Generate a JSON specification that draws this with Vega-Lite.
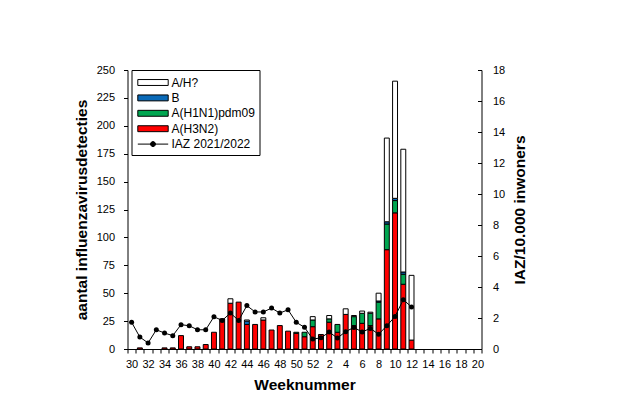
{
  "$schema": "https://vega.github.io/schema/vega-lite/v6.json",
  "width": 354,
  "height": 279,
  "autosize": {"type": "none"},
  "padding": {"left": 127.5, "top": 70, "right": 156.5, "bottom": 54},
  "background": "white",
  "datasets": {
    "bars": [
      {"w": 31, "s": "A(H3N2)", "n": 1},
      {"w": 34, "s": "A(H3N2)", "n": 1},
      {"w": 35, "s": "A(H3N2)", "n": 1},
      {"w": 36, "s": "A(H3N2)", "n": 12},
      {"w": 37, "s": "A(H3N2)", "n": 2},
      {"w": 38, "s": "A(H3N2)", "n": 2},
      {"w": 39, "s": "A(H3N2)", "n": 4},
      {"w": 40, "s": "A(H3N2)", "n": 15},
      {"w": 41, "s": "A(H3N2)", "n": 27},
      {"w": 42, "s": "A(H3N2)", "n": 41},
      {"w": 42, "s": "A/H?", "n": 4},
      {"w": 43, "s": "A(H3N2)", "n": 42},
      {"w": 44, "s": "A(H3N2)", "n": 22},
      {"w": 44, "s": "B", "n": 3},
      {"w": 44, "s": "A/H?", "n": 1},
      {"w": 45, "s": "A(H3N2)", "n": 22},
      {"w": 46, "s": "A(H3N2)", "n": 26},
      {"w": 46, "s": "A/H?", "n": 2},
      {"w": 47, "s": "A(H3N2)", "n": 17},
      {"w": 48, "s": "A(H3N2)", "n": 21},
      {"w": 49, "s": "A(H3N2)", "n": 16},
      {"w": 50, "s": "A(H3N2)", "n": 14},
      {"w": 50, "s": "A(H1N1)pdm09", "n": 1},
      {"w": 51, "s": "A(H3N2)", "n": 11},
      {"w": 51, "s": "A(H1N1)pdm09", "n": 4},
      {"w": 52, "s": "A(H3N2)", "n": 20},
      {"w": 52, "s": "A(H1N1)pdm09", "n": 6},
      {"w": 52, "s": "A/H?", "n": 3},
      {"w": 1, "s": "A(H3N2)", "n": 13},
      {"w": 2, "s": "A(H3N2)", "n": 24},
      {"w": 2, "s": "A(H1N1)pdm09", "n": 3},
      {"w": 2, "s": "A/H?", "n": 3},
      {"w": 3, "s": "A(H3N2)", "n": 15},
      {"w": 3, "s": "A(H1N1)pdm09", "n": 7},
      {"w": 4, "s": "A(H3N2)", "n": 31},
      {"w": 4, "s": "A/H?", "n": 5},
      {"w": 5, "s": "A(H3N2)", "n": 21},
      {"w": 5, "s": "A(H1N1)pdm09", "n": 8},
      {"w": 5, "s": "A/H?", "n": 1},
      {"w": 6, "s": "A(H3N2)", "n": 23},
      {"w": 6, "s": "A(H1N1)pdm09", "n": 9},
      {"w": 6, "s": "A/H?", "n": 2},
      {"w": 7, "s": "A(H3N2)", "n": 21},
      {"w": 7, "s": "A(H1N1)pdm09", "n": 11},
      {"w": 7, "s": "A/H?", "n": 1},
      {"w": 8, "s": "A(H3N2)", "n": 27},
      {"w": 8, "s": "A(H1N1)pdm09", "n": 15},
      {"w": 8, "s": "B", "n": 1},
      {"w": 8, "s": "A/H?", "n": 7},
      {"w": 9, "s": "A(H3N2)", "n": 89},
      {"w": 9, "s": "A(H1N1)pdm09", "n": 23},
      {"w": 9, "s": "B", "n": 2},
      {"w": 9, "s": "A/H?", "n": 75},
      {"w": 10, "s": "A(H3N2)", "n": 122},
      {"w": 10, "s": "A(H1N1)pdm09", "n": 11},
      {"w": 10, "s": "B", "n": 2},
      {"w": 10, "s": "A/H?", "n": 105},
      {"w": 11, "s": "A(H3N2)", "n": 58},
      {"w": 11, "s": "A(H1N1)pdm09", "n": 9},
      {"w": 11, "s": "B", "n": 2},
      {"w": 11, "s": "A/H?", "n": 110},
      {"w": 12, "s": "A(H3N2)", "n": 8},
      {"w": 12, "s": "A/H?", "n": 58}
    ],
    "iaz": [
      {"w": 30, "v": 1.72}, {"w": 31, "v": 0.77}, {"w": 32, "v": 0.39}, {"w": 33, "v": 1.24},
      {"w": 34, "v": 1.03}, {"w": 35, "v": 0.86}, {"w": 36, "v": 1.57}, {"w": 37, "v": 1.5},
      {"w": 38, "v": 1.24}, {"w": 39, "v": 1.24}, {"w": 40, "v": 2.08}, {"w": 41, "v": 1.84},
      {"w": 42, "v": 2.32}, {"w": 43, "v": 1.84}, {"w": 44, "v": 2.8}, {"w": 45, "v": 2.39},
      {"w": 46, "v": 2.39}, {"w": 47, "v": 2.64}, {"w": 48, "v": 2.32}, {"w": 49, "v": 2.53},
      {"w": 50, "v": 1.72}, {"w": 51, "v": 1.4}, {"w": 52, "v": 0.64}, {"w": 1, "v": 0.72},
      {"w": 2, "v": 1.09}, {"w": 3, "v": 0.71}, {"w": 4, "v": 1.12}, {"w": 5, "v": 1.39},
      {"w": 6, "v": 1.1}, {"w": 7, "v": 1.33}, {"w": 8, "v": 0.95}, {"w": 9, "v": 1.5},
      {"w": 10, "v": 2.1}, {"w": 11, "v": 3.18}, {"w": 12, "v": 2.71}
    ]
  },
  "encoding": {
    "x": {
      "field": "w",
      "type": "ordinal",
      "scale": {
        "domain": [30,31,32,33,34,35,36,37,38,39,40,41,42,43,44,45,46,47,48,49,50,51,52,1,2,3,4,5,6,7,8,9,10,11,12,13,14,15,16,17,18,19,20],
        "paddingInner": 0,
        "paddingOuter": 0
      },
      "axis": {
        "title": "Weeknummer",
        "labelAngle": 0,
        "tickBand": "extent",
        "tickSize": 4,
        "labelPadding": 5,
        "titlePadding": 8,
        "labelOverlap": false,
        "labelExpr": "datum.value % 2 == 0 ? datum.label : ''"
      }
    }
  },
  "layer": [
    {
      "data": {"name": "bars"},
      "transform": [
        {"calculate": "indexof(['A(H3N2)','A(H1N1)pdm09','B','A/H?'], datum.s)", "as": "ord"}
      ],
      "mark": {"type": "bar", "width": {"band": 0.6}, "stroke": "black", "strokeWidth": 1},
      "encoding": {
        "y": {
          "field": "n",
          "type": "quantitative",
          "stack": "zero",
          "scale": {"domain": [0, 250], "nice": false},
          "axis": {
            "title": "aantal influenzavirusdetecties",
            "orient": "left",
            "values": [0,25,50,75,100,125,150,175,200,225,250],
            "tickSize": 4,
            "labelPadding": 9,
            "titlePadding": 7
          }
        },
        "fill": {
          "field": "s",
          "type": "nominal",
          "scale": {
            "domain": ["A/H?", "B", "A(H1N1)pdm09", "A(H3N2)", "IAZ 2021/2022"],
            "range": ["#ffffff", "#0a6ab8", "#00a650", "#ff0000", "#000000"]
          },
          "legend": {
            "orient": "none",
            "legendX": 4,
            "legendY": 0,
            "title": null,
            "strokeColor": "black",
            "fillColor": "white",
            "padding": 4,
            "labelFont": "Liberation Sans",
            "labelFontSize": 12,
            "labelColor": "black",
            "symbolSize": 256,
            "symbolStrokeColor": "black",
            "symbolStrokeWidth": 1,
            "symbolType": "M-1.9,-0.37H1.9V0.37H-1.9Z",
            "symbolOffset": 9,
            "labelOffset": 10,
            "rowPadding": 0.4,
            "encode": {
              "symbols": {
                "update": {
                  "shape": {"signal": "datum.value === 'IAZ 2021/2022' ? 'M-1.9,0H1.9M-0.31,0A0.31,0.31 0 1 1 0.31,0A0.31,0.31 0 1 1 -0.31,0Z' : 'M-1.9,-0.37H1.9V0.37H-1.9Z'"}
                }
              }
            }
          }
        },
        "order": {"field": "ord", "type": "quantitative"}
      }
    },
    {
      "data": {"name": "iaz"},
      "mark": {"type": "line", "color": "black", "strokeWidth": 1, "point": {"filled": true, "size": 25, "color": "black"}},
      "encoding": {
        "y": {
          "field": "v",
          "type": "quantitative",
          "scale": {"domain": [0, 18], "nice": false},
          "axis": {
            "title": "IAZ/10.000 inwoners",
            "orient": "right",
            "values": [0,2,4,6,8,10,12,14,16,18],
            "tickSize": -4,
            "labelPadding": 15,
            "titleAngle": 270,
            "titleBaseline": "top",
            "titlePadding": 8
          }
        }
      }
    }
  ],
  "resolve": {"scale": {"y": "independent"}},
  "config": {
    "font": "Liberation Sans",
    "view": {"stroke": null},
    "axis": {
      "grid": false,
      "domainColor": "black",
      "tickColor": "black",
      "labelColor": "black",
      "titleColor": "black",
      "labelFont": "Liberation Sans",
      "titleFont": "Liberation Sans",
      "labelFontSize": 11,
      "titleFontSize": 15.5,
      "titleFontWeight": "bold"
    }
  }
}
